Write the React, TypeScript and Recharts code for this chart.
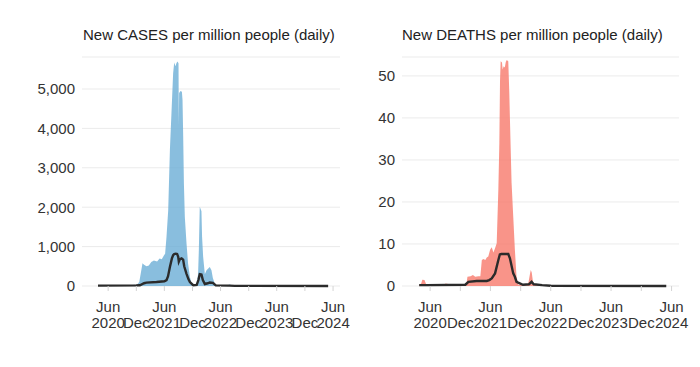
import { Area, CartesianGrid, ComposedChart, Line, XAxis, YAxis } from 'recharts';

const casesDates = [
  '2020-03-27', '2020-05-01', '2020-08-01', '2020-10-15', '2020-11-20', '2020-12-02',
  '2020-12-20', '2020-12-31', '2021-01-10', '2021-01-20', '2021-02-05', '2021-02-20',
  '2021-03-08', '2021-03-25', '2021-04-15', '2021-05-01', '2021-05-15', '2021-05-30',
  '2021-06-06', '2021-06-15', '2021-06-26', '2021-07-07', '2021-07-18', '2021-07-28',
  '2021-08-04', '2021-08-12', '2021-08-19', '2021-08-26', '2021-09-01', '2021-09-03',
  '2021-09-05', '2021-09-14', '2021-09-23', '2021-09-27', '2021-10-01', '2021-10-06',
  '2021-10-12', '2021-10-23', '2021-11-02', '2021-11-14', '2021-11-25', '2021-12-10',
  '2021-12-28', '2022-01-06', '2022-01-11', '2022-01-17', '2022-01-22', '2022-01-28',
  '2022-02-01', '2022-02-08', '2022-02-19', '2022-03-02', '2022-03-23', '2022-04-03',
  '2022-04-12', '2022-04-25', '2022-05-06', '2022-07-15', '2022-07-31', '2022-08-15',
  '2022-10-01', '2024-04-30',
];
const casesValues = [
  10, 5, 8, 10, 30, 20,
  100, 350, 580, 540, 500, 520,
  610, 650, 620, 700, 680, 780,
  820, 1250, 1920, 3450, 4470, 5400,
  5670, 5580, 5660, 5700, 5650, 4100,
  4900, 4950, 4930, 4720, 3880, 2600,
  1750, 1080, 570, 230, 60, 20,
  30, 300, 910, 2010, 1960, 1900,
  1250, 740, 300, 400, 480, 400,
  200, 60, 10, 20, 40, 15,
  5, 0,
];

// rolling average line
const casesAvgDates = [
  '2020-03-27', '2020-11-30', '2020-12-24', '2021-01-20', '2021-02-05', '2021-04-11',
  '2021-06-01', '2021-06-15', '2021-06-25', '2021-07-07', '2021-07-20', '2021-07-28',
  '2021-08-04', '2021-08-14', '2021-08-23', '2021-08-30', '2021-09-03', '2021-09-10',
  '2021-09-21', '2021-10-01', '2021-10-08', '2021-10-23', '2021-11-05', '2021-11-14',
  '2021-12-05', '2021-12-28', '2022-01-08', '2022-01-17', '2022-01-28', '2022-02-06',
  '2022-02-19', '2022-03-10', '2022-03-23', '2022-04-12', '2022-05-01', '2022-07-31',
  '2022-09-01', '2024-04-30',
];
const casesAvgValues = [
  10, 15, 20, 70, 85, 100,
  120, 150, 250, 480, 700, 780,
  810, 820, 810, 740, 620, 680,
  700, 670, 500, 310, 170, 100,
  20, 30, 150, 300, 290, 150,
  50, 70, 90, 80, 15, 10,
  3, 0,
];

const deathsDates = [
  '2020-03-27', '2020-04-08', '2020-04-15', '2020-04-28', '2020-05-08', '2020-05-20',
  '2020-08-25', '2020-09-02', '2020-09-18', '2020-09-28', '2020-12-20', '2021-01-08',
  '2021-01-13', '2021-02-01', '2021-02-15', '2021-03-01', '2021-03-20', '2021-04-01',
  '2021-04-10', '2021-04-20', '2021-05-01', '2021-05-10', '2021-05-19', '2021-05-30',
  '2021-06-09', '2021-06-19', '2021-06-29', '2021-07-09', '2021-07-19', '2021-07-25',
  '2021-07-29', '2021-08-02', '2021-08-10', '2021-08-14', '2021-08-20', '2021-08-27',
  '2021-09-02', '2021-09-08', '2021-09-17', '2021-09-23', '2021-09-27', '2021-10-07',
  '2021-10-17', '2021-10-27', '2021-11-06', '2021-11-16', '2022-01-10', '2022-01-18',
  '2022-01-26', '2022-01-31', '2022-02-06', '2022-02-12', '2022-02-18', '2022-03-20',
  '2024-04-30',
];
const deathsValues = [
  0.2, 0.6, 1.5, 1.4, 0.4, 0.1,
  0.1, 0.6, 0.5, 0.1, 0.2, 0.8,
  2.2, 2.3, 2.6, 2.2, 2.3, 2.3,
  6.2, 6.4, 6.2, 6.8, 7.0, 8.6,
  9.2, 8.0, 9.0, 10.2, 23, 34,
  48.7, 53.5, 53.2, 51.5, 52.3, 52,
  53.3, 53.8, 53.5, 46.3, 39.8, 24.6,
  16.6, 8.6, 2.2, 0.3, 0.2, 1.0,
  2.8, 3.8, 3.2, 1.4, 0.3, 0.1,
  0,
];

const deathsAvgDates = [
  '2020-03-27', '2020-05-15', '2020-12-31', '2021-01-19', '2021-03-10', '2021-05-10',
  '2021-05-25', '2021-06-09', '2021-06-29', '2021-07-19', '2021-07-28', '2021-08-06',
  '2021-09-17', '2021-09-27', '2021-10-17', '2021-10-27', '2021-11-06', '2021-11-16',
  '2021-12-15', '2022-01-20', '2022-02-05', '2022-02-18', '2022-04-10', '2022-06-01',
  '2024-04-30',
];
const deathsAvgValues = [
  0.2, 0.2, 0.3, 1.0, 1.2, 1.2,
  1.4, 1.8, 3.0, 6.2, 7.5, 7.6,
  7.6, 6.6, 3.0, 2.2, 1.0, 0.8,
  0.3, 0.4, 1.0, 0.4, 0.2, 0.05,
  0,
];

const tickDates = [
  '2020-06-01', '2020-12-01', '2021-06-01', '2021-12-01', '2022-06-01',
  '2022-12-01', '2023-06-01', '2023-12-01', '2024-06-01',
];
const tickTop = ['Jun', '', 'Jun', '', 'Jun', '', 'Jun', '', 'Jun'];
const tickBottom = ['2020', 'Dec', '2021', 'Dec', '2022', 'Dec', '2023', 'Dec', '2024'];

const casesTicks = [0, 1000, 2000, 3000, 4000, 5000];
const deathsTicks = [0, 10, 20, 30, 40, 50];

const xDomain = [Date.parse('2019-12-14'), Date.parse('2024-07-16')];
const xTicks = tickDates.map((d) => Date.parse(d));

type Row = { t: number; bar?: number; avg?: number };

const buildRows = (
  barDates: string[],
  barValues: number[],
  avgDates: string[],
  avgValues: number[]
) => {
  const rows = new Map<number, Row>();
  barDates.forEach((d, i) => {
    const t = Date.parse(d);
    rows.set(t, { ...(rows.get(t) ?? { t }), bar: barValues[i] });
  });
  avgDates.forEach((d, i) => {
    const t = Date.parse(d);
    rows.set(t, { ...(rows.get(t) ?? { t }), avg: avgValues[i] });
  });
  return [...rows.values()].sort((a, b) => a.t - b.t);
};

const casesRows = buildRows(casesDates, casesValues, casesAvgDates, casesAvgValues);
const deathsRows = buildRows(deathsDates, deathsValues, deathsAvgDates, deathsAvgValues);

const DateTick = (props: any) => {
  const { x, y, index } = props;
  return (
    <g>
      <text x={x} y={y + 18.5} textAnchor='middle' fontSize={15} fill='#333'>
        {tickTop[index]}
      </text>
      <text x={x} y={y + 35} textAnchor='middle' fontSize={15} fill='#333'>
        {tickBottom[index]}
      </text>
    </g>
  );
};

type PanelProps = {
  rows: Row[];
  color: string;
  opacity: number;
  yTicks: number[];
  yMax: number;
  axisWidth: number;
  right: number;
};

const Panel = ({ rows, color, opacity, yTicks, yMax, axisWidth, right }: PanelProps) => (
  <ComposedChart
    width={350}
    height={367}
    data={rows}
    margin={{ top: 57, right, bottom: 21, left: 0 }}
  >
    <CartesianGrid vertical={false} stroke='#ebebeb' />
    <XAxis
      dataKey='t'
      type='number'
      domain={xDomain}
      ticks={xTicks}
      interval={0}
      height={60}
      axisLine={false}
      tickLine={{ stroke: '#d4d4d4' }}
      tickSize={5}
      tickMargin={2}
      tick={<DateTick />}
    />
    <YAxis
      domain={[0, yMax]}
      ticks={yTicks}
      width={axisWidth}
      axisLine={false}
      tickLine={false}
      tickSize={0}
      tickMargin={7}
      tick={{ fontSize: 15, fill: '#333' }}
      tickFormatter={(v: number) => v.toLocaleString('en-US')}
    />
    <Area
      type='linear'
      dataKey='bar'
      stroke='none'
      fill={color}
      fillOpacity={opacity}
      connectNulls
      isAnimationActive={false}
    />
    <Line
      type='linear'
      dataKey='avg'
      stroke='#2b2b2b'
      strokeWidth={2.4}
      dot={false}
      connectNulls
      isAnimationActive={false}
    />
  </ComposedChart>
);

export default function App() {
  return (
    <div
      style={{
        position: 'absolute',
        left: 0,
        top: 0,
        width: 700,
        height: 367,
        background: '#fff',
        fontFamily: '"Liberation Sans", Arial, sans-serif',
      }}
    >
      <div style={{ position: 'absolute', left: 0, top: 0 }}>
        <Panel
          rows={casesRows}
          color='#6baed6'
          opacity={0.8}
          yTicks={casesTicks}
          yMax={5812}
          axisWidth={82}
          right={10}
        />
      </div>
      <div style={{ position: 'absolute', left: 350, top: 0 }}>
        <Panel
          rows={deathsRows}
          color='#f8796b'
          opacity={0.8}
          yTicks={deathsTicks}
          yMax={54.5}
          axisWidth={52}
          right={21}
        />
      </div>
      <svg
        width={700}
        height={367}
        style={{ position: 'absolute', left: 0, top: 0, pointerEvents: 'none' }}
      >
        <text x={83} y={40} fontSize={15} fill='#222'>
          New CASES per million people (daily)
        </text>
        <text x={402} y={40} fontSize={15} fill='#222'>
          New DEATHS per million people (daily)
        </text>
      </svg>
    </div>
  );
}
